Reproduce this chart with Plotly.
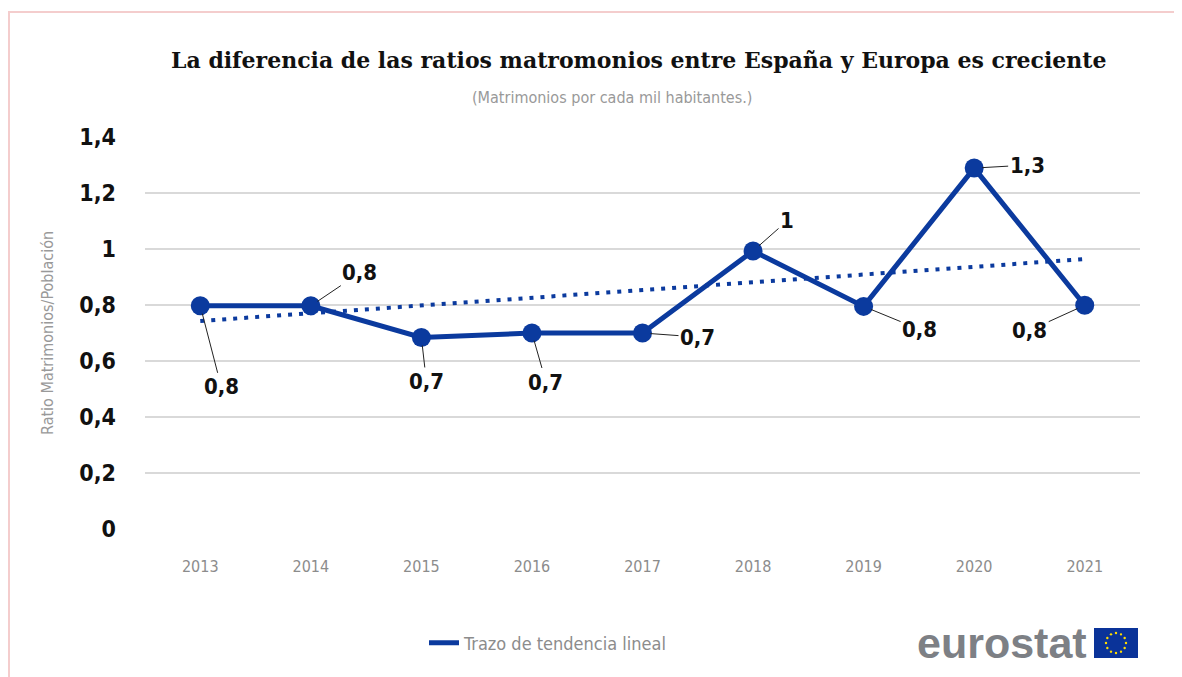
import math
import plotly.graph_objects as go

years = ["2013", "2014", "2015", "2016", "2017", "2018", "2019", "2020", "2021"]
ratio = [0.797, 0.797, 0.684, 0.700, 0.700, 0.993, 0.795, 1.289, 0.799]
trend_years = ["2013", "2021"]
trend_values = [0.743, 0.964]
y_ticks = [0, 0.2, 0.4, 0.6, 0.8, 1.0, 1.2, 1.4]
y_tick_labels = ["0", "0,2", "0,4", "0,6", "0,8", "1", "1,2", "1,4"]
label_offsets = [(21, 81), (49, -33), (5, 44), (14, 49), (55, 4),
                 (34, -30), (56, 23), (53, -3), (-55, 25)]

BLUE = "#0b3a9e"
GRAY = "#8c8c8c"
COND = "DejaVu Sans Condensed, Liberation Sans Narrow, sans-serif"

OFF = 8  # default page body margin
W, H = 1182 - OFF, 677 - OFF
L, T = 145 - OFF, 137 - OFF
PW, PH = 995, 392
R, B = W - L - PW, H - T - PH


def px(x):
    return (x - OFF - L) / PW


def py(y):
    return (T + PH - (y - OFF)) / PH


def fmt(v):
    r = round(v, 1)
    if abs(r - round(r)) < 1e-9:
        return str(int(round(r)))
    return f"{r:.1f}".replace(".", ",")


idx = {y: i for i, y in enumerate(years)}

fig = go.Figure()
fig.add_trace(go.Scatter(
    x=[idx[y] for y in trend_years], y=trend_values, mode="lines",
    line=dict(color=BLUE, width=4, dash="4px,7px"),
    showlegend=False, hoverinfo="skip"))
fig.add_trace(go.Scatter(
    x=list(range(len(years))), y=ratio, mode="lines",
    line=dict(color=BLUE, width=5),
    name="Trazo de tendencia lineal", showlegend=True))
fig.add_trace(go.Scatter(
    x=list(range(len(years))), y=ratio, mode="markers",
    marker=dict(color=BLUE, size=19),
    showlegend=False))

annotations = []
for i, (v, (ax, ay)) in enumerate(zip(ratio, label_offsets)):
    annotations.append(dict(
        x=i, y=v, xref="x", yref="y", text="<b>" + fmt(v) + "</b>",
        showarrow=True, arrowhead=0, arrowwidth=1, arrowcolor="#222222",
        ax=ax, ay=ay, standoff=8,
        font=dict(family=COND, size=22, color="#111111")))

annotations.append(dict(
    x=px(638), y=py(60), xref="paper", yref="paper", showarrow=False,
    text="<b>La diferencia de las ratios matromonios entre España y Europa es creciente</b>",
    font=dict(family="DejaVu Serif", size=22, color="#111111"),
    xanchor="center", yanchor="middle"))
annotations.append(dict(
    x=px(612), y=py(98), xref="paper", yref="paper", showarrow=False,
    text="(Matrimonios por cada mil habitantes.)",
    font=dict(family=COND, size=16, color="#999999"),
    xanchor="center", yanchor="middle"))
annotations.append(dict(
    x=px(47), y=py(333), xref="paper", yref="paper", showarrow=False,
    text="Ratio Matrimonios/Población", textangle=-90,
    font=dict(family=COND, size=16, color="#999999"),
    xanchor="center", yanchor="middle"))
annotations.append(dict(
    x=px(1089), y=py(643), xref="paper", yref="paper", showarrow=False,
    text="<b>eurostat</b>",
    font=dict(family="Liberation Sans, Arial, sans-serif", size=43, color="#7d8085"),
    xanchor="right", yanchor="middle"))

shapes = [
    dict(type="line", xref="paper", yref="paper", x0=px(8), x1=px(1182), y0=py(12), y1=py(12),
         line=dict(color="#f4cdcd", width=2)),
    dict(type="line", xref="paper", yref="paper", x0=px(9), x1=px(9), y0=py(12), y1=py(677),
         line=dict(color="#f4cdcd", width=2)),
    dict(type="rect", xref="paper", yref="paper", x0=px(1094), x1=px(1138), y0=py(628), y1=py(658),
         fillcolor="#0a3399", line=dict(width=0)),
]
cx, cy, rad = 1116, 643, 10
for k in range(12):
    a = 2 * math.pi * k / 12
    sx, sy = cx + rad * math.cos(a), cy + rad * math.sin(a)
    shapes.append(dict(type="circle", xref="paper", yref="paper",
                       x0=px(sx - 1.2), x1=px(sx + 1.2), y0=py(sy - 1.2), y1=py(sy + 1.2),
                       fillcolor="#ffdd00", line=dict(width=0)))

fig.update_layout(
    width=W, height=H,
    margin=dict(l=L, r=R, t=T, b=B),
    paper_bgcolor="white", plot_bgcolor="white",
    separators=",.",
    annotations=annotations, shapes=shapes,
    legend=dict(orientation="h", x=px(424), y=py(643), xanchor="left", yanchor="middle",
                font=dict(family=COND, size=18, color=GRAY), bgcolor="rgba(0,0,0,0)"),
    xaxis=dict(range=[-0.5, 8.5], tickvals=list(range(len(years))), ticktext=years,
               showgrid=False, zeroline=False, automargin=False,
               showline=False, ticks="", ticklabelstandoff=26,
               tickfont=dict(family=COND, size=16, color=GRAY)),
    yaxis=dict(range=[0, 1.4], tickvals=y_ticks, ticktext=["<b>%s</b>" % t for t in y_tick_labels],
               showgrid=True, gridcolor="#d9d9d9", gridwidth=1.5, zeroline=False,
               showline=False, ticks="", ticklabelstandoff=28, automargin=False,
               tickfont=dict(family=COND, size=23, color="#111111")),
)
fig.write_html("out.html")
